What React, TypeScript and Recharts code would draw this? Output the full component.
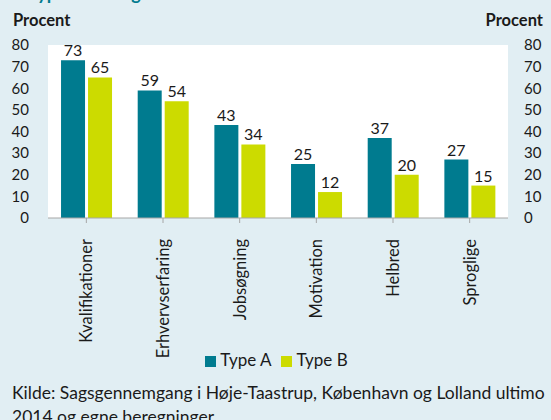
import React from 'react'
import {
  Bar,
  BarChart,
  CartesianGrid,
  LabelList,
  Legend,
  XAxis,
  YAxis,
} from 'recharts'

const categories = [
  'Kvalifikationer',
  'Erhvervserfaring',
  'Jobsøgning',
  'Motivation',
  'Helbred',
  'Sproglige',
]
const typeA = [73, 59, 43, 25, 37, 27]
const typeB = [65, 54, 34, 12, 20, 15]
const yTicks = [0, 10, 20, 30, 40, 50, 60, 70, 80]

const TEAL = '#007b8f'
const LIME = '#ccdb00'
const BG = '#e1eef3'
const FONT = 'Lato, "Open Sans", sans-serif'

const data = categories.map((name, i) => ({
  name,
  a: typeA[i],
  b: typeB[i],
}))

function RotatedTick({ x, y, payload }: any) {
  return (
    <text
      x={x}
      y={y + 14}
      transform={`rotate(-90 ${x} ${y + 14})`}
      textAnchor='end'
      dominantBaseline='central'
      fontSize={16.5}
      fill='#1a1a1a'
      fontFamily={FONT}
    >
      {payload.value}
    </text>
  )
}

export default function App() {
  return (
    <div
      style={{
        position: 'fixed',
        left: 0,
        top: 0,
        width: 551,
        height: 420,
        background: BG,
        fontFamily: FONT,
        color: '#1a1a1a',
        overflow: 'hidden',
      }}
    >
      <div
        style={{
          position: 'absolute',
          left: 28,
          top: -18,
          fontSize: 18,
          fontWeight: 700,
          color: TEAL,
        }}
      >
        Typer af mangler
      </div>
      <div
        style={{ position: 'absolute', left: 13, top: 10, fontSize: 16.5, fontWeight: 700 }}
      >
        Procent
      </div>
      <div
        style={{ position: 'absolute', right: 8, top: 10, fontSize: 16.5, fontWeight: 700 }}
      >
        Procent
      </div>
      <BarChart
        width={551}
        height={420}
        data={data}
        margin={{ top: 45, right: 0, bottom: 2, left: 0 }}
        barCategoryGap='17%'
        barGap={3}
      >
        <CartesianGrid fill='#ffffff' horizontal={false} vertical={false} />
        <XAxis
          dataKey='name'
          interval={0}
          height={200}
          axisLine={{ stroke: '#a6a6a6' }}
          tickLine={{ stroke: '#a6a6a6' }}
          tickSize={5}
          tick={<RotatedTick />}
        />
        <YAxis
          yAxisId='left'
          orientation='left'
          width={48}
          domain={[0, 80]}
          ticks={yTicks}
          interval={0}
          axisLine={false}
          tickLine={false}
          tickSize={0}
          tickMargin={19}
          tick={{ fontSize: 15, fill: '#1a1a1a', fontFamily: FONT }}
        />
        <YAxis
          yAxisId='right'
          orientation='right'
          width={43}
          domain={[0, 80]}
          ticks={yTicks}
          interval={0}
          axisLine={false}
          tickLine={false}
          tickSize={0}
          tickMargin={16}
          tick={{ fontSize: 15, fill: '#1a1a1a', fontFamily: FONT }}
        />
        <Legend
          layout='horizontal'
          verticalAlign='middle'
          align='center'
          iconType='square'
          iconSize={11}
          wrapperStyle={{ position: 'absolute', top: 349, left: 6, width: 551 }}
          formatter={(value: string) => (
            <span style={{ color: '#1a1a1a', fontSize: 17 }}>{value}</span>
          )}
        />
        <Bar yAxisId='left' dataKey='a' name='Type A' fill={TEAL} isAnimationActive={false}>
          <LabelList dataKey='a' position='top' offset={4} fontSize={16} fill='#1a1a1a' fontFamily={FONT} />
        </Bar>
        <Bar yAxisId='right' dataKey='b' name='Type B' fill={LIME} isAnimationActive={false}>
          <LabelList dataKey='b' position='top' offset={4} fontSize={16} fill='#1a1a1a' fontFamily={FONT} />
        </Bar>
      </BarChart>
      <div
        style={{
          position: 'absolute',
          left: 12,
          top: 381,
          fontSize: 17.5,
          lineHeight: '24px',
          width: 535,
          whiteSpace: 'nowrap',
        }}
      >
        Kilde: Sagsgennemgang i Høje-Taastrup, København og Lolland ultimo
        <br />
        2014 og egne beregninger
      </div>
    </div>
  )
}
